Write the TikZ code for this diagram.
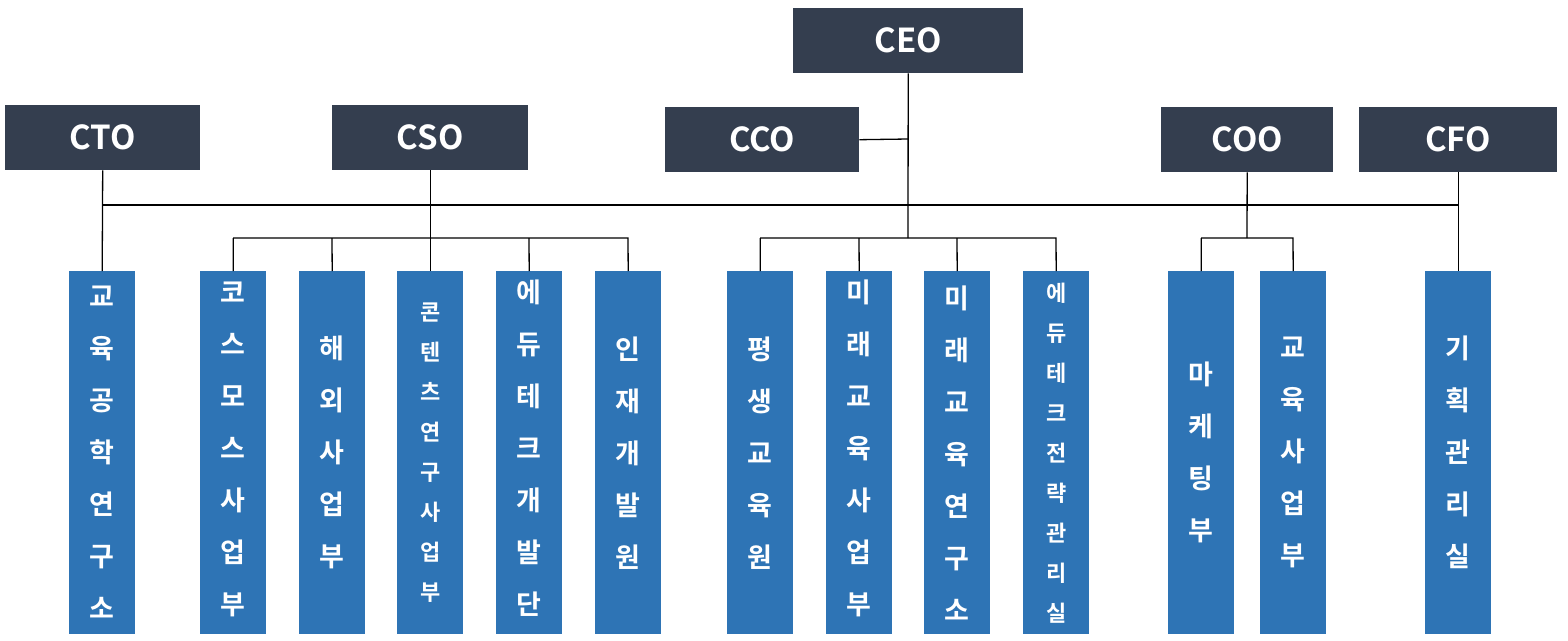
\documentclass[tikz,border=0pt]{standalone}
\usepackage{fontspec}
\setmainfont{Noto Sans CJK KR}[BoldFont={Noto Sans CJK KR Bold}]
\begin{document}
\begin{tikzpicture}[x=1pt,y=-1pt,
  head/.style={fill={rgb,255:red,52;green,62;blue,79},text=white,font=\fontsize{33}{33}\selectfont\bfseries,inner sep=0,anchor=north west},
  bar/.style={fill={rgb,255:red,46;green,116;blue,181},text=white,inner sep=0,anchor=north west,align=center,minimum width=66,minimum height=363,font=\fontsize{27}{52}\selectfont\bfseries},
  sbar/.style={bar,font=\fontsize{22}{40}\selectfont\bfseries},
  ln/.style={draw=black,line width=1.3pt}]
\useasboundingbox (0,0) rectangle (1568,640);
\node[head,minimum width=230,minimum height=65] (ceo) at (793,8) {CEO};
\node[head,minimum width=195,minimum height=65] (cto) at (5,105) {CTO};
\node[head,minimum width=196,minimum height=65] (cso) at (332,105) {CSO};
\node[head,minimum width=194,minimum height=65] (cco) at (665,107) {CCO};
\node[head,minimum width=172,minimum height=65] (coo) at (1161,107) {COO};
\node[head,minimum width=198,minimum height=65] (cfo) at (1359,107) {CFO};
\node[bar] (b1) at (69,271) {교\\육\\공\\학\\연\\구\\소};
\node[bar] (b2) at (200,271) {\raisebox{0pt}{}\\[-38pt]코\\스\\모\\스\\사\\업\\부};
\node[bar] (b3) at (299,271) {해\\외\\사\\업\\부};
\node[sbar] (b4) at (397,271) {콘\\텐\\츠\\연\\구\\사\\업\\부};
\node[bar] (b5) at (496,271) {\raisebox{0pt}{}\\[-38pt]에\\듀\\테\\크\\개\\발\\단};
\node[bar] (b6) at (595,271) {인\\재\\개\\발\\원};
\node[bar] (b7) at (727,271) {평\\생\\교\\육\\원};
\node[bar] (b8) at (826,271) {\raisebox{0pt}{}\\[-38pt]미\\래\\교\\육\\사\\업\\부};
\node[bar] (b9) at (924,271) {미\\래\\교\\육\\연\\구\\소};
\node[sbar] (b10) at (1023,271) {에\\듀\\테\\크\\전\\략\\관\\리\\실};
\node[bar] (b11) at (1168,271) {마\\케\\팅\\부};
\node[bar] (b12) at (1260,271) {교\\육\\사\\업\\부};
\node[bar] (b13) at (1425,271) {기\\획\\관\\리\\실};
\coordinate (j) at (908,139);
\draw[ln] (ceo.south) -- (908,238);
\draw[ln] (cco.east) -- (j);
\draw[ln] (102,205) -- (1458,205);
\draw[ln] (cto.south) -- (b1.north);
\draw[ln] (cso.south) -- (b4.north);
\draw[ln] (cfo.south) -- (b13.north);
\draw[ln] (coo.south) -- (1247,238);
\draw[ln] (b2.north) |- (233,238) -- (628,238) -- (b6.north);
\draw[ln] (b3.north) -- (332,238);
\draw[ln] (b5.north) -- (529,238);
\draw[ln] (b7.north) |- (760,238) -- (1056,238) -- (b10.north);
\draw[ln] (b8.north) -- (859,238);
\draw[ln] (b9.north) -- (957,238);
\draw[ln] (b11.north) |- (1201,238) -- (1293,238) -- (b12.north);
\end{tikzpicture}
\end{document}
